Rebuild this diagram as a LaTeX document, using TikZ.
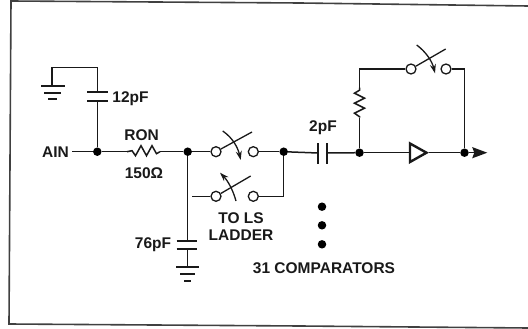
\documentclass[tikz,border=0pt]{standalone}
\usepackage{fontspec}
\setmainfont{Liberation Sans}
\usetikzlibrary{arrows.meta}
\tikzset{
  wire/.style={line width=1.5pt,black!90},
  plate/.style={line width=2pt,black!90},
  frameline/.style={line width=1.6pt,black!75},
  junction/.style={circle,fill=black,inner sep=0pt,minimum size=8.5pt},
  bigdot/.style={circle,fill=black,inner sep=0pt,minimum size=8.5pt},
  ring/.style={circle,draw=black!90,fill=white,line width=1.3pt,inner sep=0pt,minimum size=10pt},
  lbl/.style={inner sep=0pt,font=\fontsize{15.5}{17}\selectfont\bfseries,text=black!90},
  blade/.style={line width=1.3pt,black!90},
  lever/.style={line width=1.3pt,black!90,-{Stealth[length=9pt,width=6pt]}},
  buffer/.style={line width=2.4pt,black!90,fill=white,line join=miter},
}
\begin{document}
\begin{tikzpicture}[x=1pt,y=-1pt]
\useasboundingbox (0,0) rectangle (528,329);
% frame (open on the right, as cropped)
\draw[frameline] (528,6) -- (300,3) -- (11,1) -- (9,324) -- (300,326) -- (528,328);

% junctions and terminals
\node[junction] (n1) at (97.3,151.7) {};
\node[junction] (n2) at (187.7,151.7) {};
\node[junction] (n3) at (283.7,151.7) {};
\node[junction] (n4) at (359.5,152.7) {};
\node[junction] (n5) at (464.5,152.7) {};
\node[ring] (s1a) at (216,151.7) {};
\node[ring] (s1b) at (253.3,151.7) {};
\node[ring] (s2a) at (216,196.3) {};
\node[ring] (s2b) at (253.3,196.3) {};
\node[ring] (s3a) at (411,69) {};
\node[ring] (s3b) at (446,69) {};

% labels
\node[lbl] (ain) at (55.5,151.7) {AIN};
\node[lbl] (c12l) at (130.5,99) {12pF};
\node[lbl] (ron) at (141.7,135) {RON};
\node[lbl] (ohm) at (144,173) {150Ω};
\node[lbl] (c76l) at (153,245) {76pF};
\node[lbl] (c2l) at (323,128) {2pF};
\node[lbl] (tols) at (241,218) {TO LS};
\node[lbl] (ladder) at (241,234.7) {LADDER};
\node[lbl] (comps) at (324,268) {31 COMPARATORS};

% three dots
\node[bigdot] (d1) at (322,206.7) {};
\node[bigdot] (d2) at (322,225.3) {};
\node[bigdot] (d3) at (322,244.3) {};

% AIN wire and resistor RON
\coordinate (ainw) at (72,151.7);
\coordinate (r1a) at (127,151.7);
\coordinate (r1b) at (160,151.7);
\draw[wire] (ainw) -- (n1) -- (r1a);
\draw[wire,line join=miter] (r1a) -- ++(5,-1) -- ++(3.5,5) -- ++(5.5,-10) -- ++(5.5,10) -- ++(5.5,-10) -- ++(4.5,8) -- (r1b);
\draw[wire] (r1b) -- (n2) -- (s1a);

% 12pF capacitor and ground
\coordinate (c12t) at (97.3,92);
\coordinate (c12b) at (97.3,101);
\coordinate (topr) at (97.3,67.7);
\coordinate (topl) at (52,67.7);
\coordinate (g1) at (52,86);
\draw[wire] (n1) -- (c12b);
\draw[wire] (c12t) -- (topr) -- (topl) -- (g1);
\draw[plate] (87,92) -- (108,92);
\draw[plate] (87,101) -- (108,101);
\draw[plate] (41,86) -- (65,86);
\draw[plate] (44,92.7) -- (61,92.7);
\draw[plate] (48,98.7) -- (57,98.7);

% 76pF capacitor and ground
\coordinate (c76t) at (187.7,240.7);
\coordinate (c76b) at (187.7,249.3);
\coordinate (g2) at (187.7,267);
\draw[wire] (n2) -- (c76t);
\draw[wire] (c76b) -- (g2);
\draw[plate] (176.7,240.7) -- (196.7,240.7);
\draw[plate] (176.7,249.3) -- (196.7,249.3);
\draw[plate] (176,267) -- (199,267);
\draw[plate] (180,274) -- (195,274);
\draw[plate] (184,280.7) -- (191,280.7);

% switches and branch wires
\draw[wire] (s1b) -- (n3);
\coordinate (s2in) at (192,196.3);
\coordinate (s2c) at (283.7,196.3);
\draw[wire] (s2in) -- (s2a);
\draw[wire] (s2b) -- (s2c) -- (n3);
\draw[blade] (s1a) -- (252,132);
\draw[blade] (s2a) -- (250.7,176);
\draw[blade] (s3a) -- (445.7,49);
\draw[lever] (222.7,131) .. controls (233,138) and (238,148) .. (240.7,160);
\draw[lever] (236,201) .. controls (233,190) and (228,181) .. (220,172.7);
\draw[lever] (416.7,45) .. controls (426,52) and (432,61) .. (435,73.3);

% 2pF capacitor
\coordinate (c2a) at (318,153);
\coordinate (c2b) at (327,153);
\draw[wire] (n3) -- (c2a);
\draw[wire] (c2b) -- (n4);
\draw[plate] (318,143) -- (318,164);
\draw[plate] (327,143) -- (327,164);

% feedback path
\coordinate (fb) at (359.5,69);
\coordinate (r2a) at (359.5,117.7);
\coordinate (r2b) at (359.5,87.7);
\coordinate (fbr) at (464.5,69);
\draw[wire] (n4) -- (r2a);
\draw[wire,line join=miter] (r2a) -- ++(0,-1) -- ++(-5,-3.5) -- ++(10,-5) -- ++(-10,-5) -- ++(10,-5) -- ++(-10,-5) -- ++(5,-3) -- (r2b);
\draw[wire] (r2b) -- (fb) -- (s3a);
\draw[wire] (s3b) -- (fbr) -- (n5);

% buffer and output
\node[inner sep=0pt,minimum size=0pt] (bufin) at (410,152.7) {};
\node[inner sep=0pt,minimum size=0pt] (bufout) at (429,152.7) {};
\coordinate (outp) at (487.3,152.7);
\draw[wire] (n4) -- (bufin);
\draw[wire] (bufout) -- (n5);
\draw[wire,-{Stealth[length=15pt,width=11pt,inset=2pt]}] (n5) -- (outp);
\draw[buffer] (410,143.5) -- (426.5,152.7) -- (410,162) -- cycle;
\end{tikzpicture}
\end{document}
